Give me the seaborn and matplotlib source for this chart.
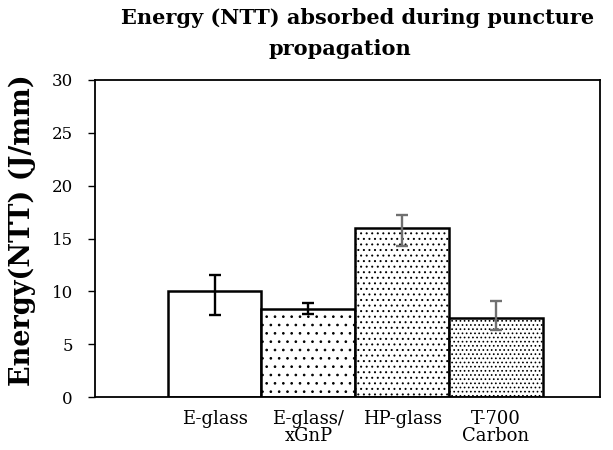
import matplotlib
matplotlib.use("Agg")
import matplotlib.pyplot as plt
import seaborn as sns
import pandas as pd
import numpy as np

# Puncture propagation energy per laminate type
materials = ["E-glass", "E-glass/\nxGnP", "HP-glass", "T-700\nCarbon"]
energy = [10.0, 8.3, 16.0, 7.5]
err_low = [2.2, 0.4, 1.7, 1.2]
err_high = [1.5, 0.55, 1.2, 1.55]

title_lines = ["Energy (NTT) absorbed during puncture", "propagation"]
hatches = ["", "..", "...", "...."]
err_line_colors = ["black", "black", "#707070", "#707070"]

sns.set_theme(style="white")
plt.rcParams["font.family"] = ["DejaVu Serif", "Liberation Serif"]
plt.rcParams["hatch.linewidth"] = 0.7
plt.rcParams["hatch.color"] = "black"

df = pd.DataFrame({"material": materials, "energy": energy})

fig = plt.figure(figsize=(6.13, 4.5), dpi=100)
ax = fig.add_axes([95 / 613, 1 - 397 / 450, 505 / 613, 317 / 450])

sns.barplot(data=df, x="material", y="energy", color="white", width=1.0,
            edgecolor="black", linewidth=1.8, errorbar=None, ax=ax, saturation=1)

for patch, h in zip(ax.patches, hatches):
    patch.set_facecolor("white")
    patch.set_hatch(h)

xpos = np.arange(len(materials))
for x, y, lo, hi, c in zip(xpos, energy, err_low, err_high, err_line_colors):
    _, caps, bars = ax.errorbar(x, y, yerr=[[lo], [hi]], fmt="none", ecolor=c,
                                elinewidth=1.7, capsize=4.6, capthick=1.7)
    for cap in caps:
        cap.set_color("black")

ax.set_xlim(-1.275, 4.11)
ax.set_ylim(0, 30)
ax.set_yticks([0, 5, 10, 15, 20, 25, 30])
ax.tick_params(axis="y", which="major", left=True, length=5, width=1,
               direction="out", labelsize=12, pad=11, colors="black")
ax.tick_params(axis="x", length=0, labelsize=13, pad=9, colors="black")
for lab in ax.get_xticklabels():
    lab.set_linespacing(0.95)

for s in ax.spines.values():
    s.set_visible(True)
    s.set_color("black")
    s.set_linewidth(1.3)

ax.set_xlabel("")
ax.set_ylabel("Energy(NTT) (J/mm)", fontsize=19.5, fontweight="bold", color="black")
ax.yaxis.set_label_coords(-0.117, 0.527)

# two-line title, second line set slightly left of the first
fig.text(358 / 613, 1 - 8 / 450, title_lines[0], ha="center", va="top",
         fontsize=15, fontweight="bold", color="black")
fig.text(340 / 613, 1 - 39 / 450, title_lines[1], ha="center", va="top",
         fontsize=15, fontweight="bold", color="black")

fig.savefig("out.png", dpi=100, facecolor="white")
